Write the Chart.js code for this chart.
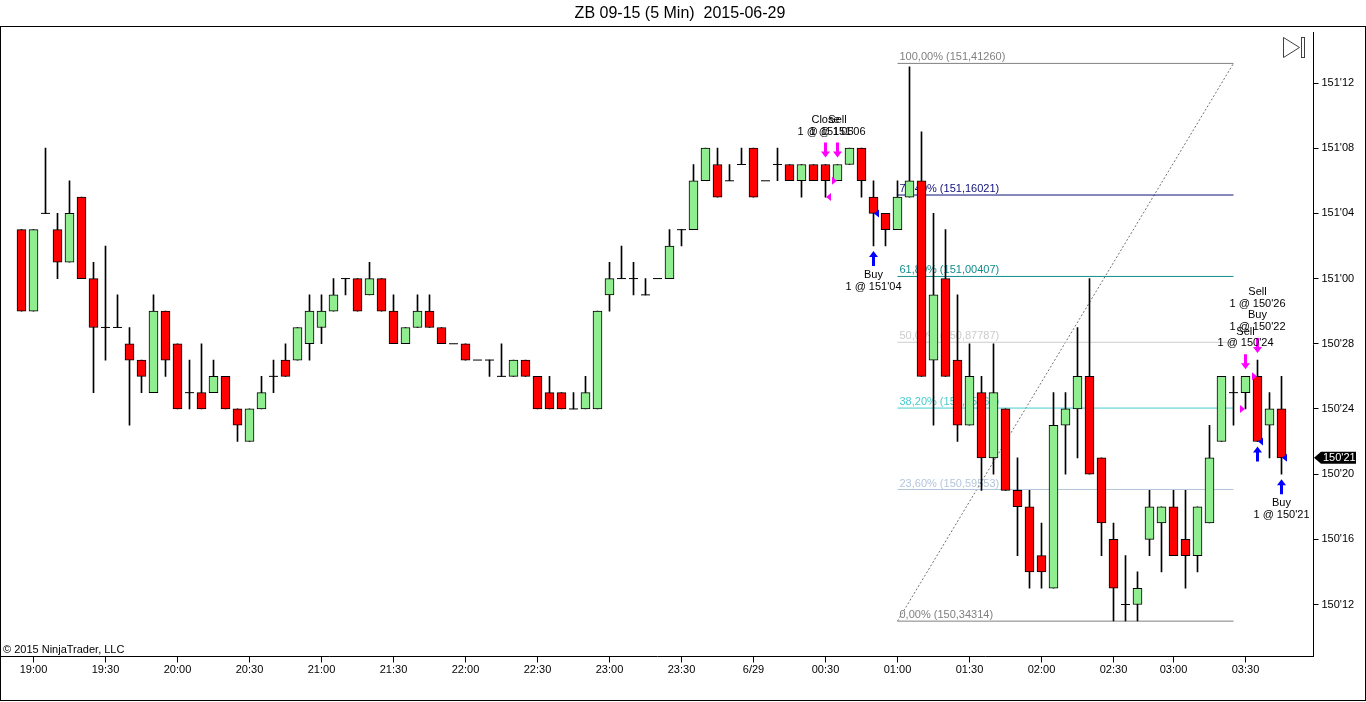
<!DOCTYPE html>
<html lang="en">
<head>
    <meta charset="UTF-8">
    <title>ZB 09-15 (5 Min) 2015-06-29</title>
    <script src="https://cdn.jsdelivr.net/npm/chart.js"></script>
    <style>
        html, body {
            margin: 0;
            padding: 0;
            background-color: #ffffff;
        }
        .chart-container {
            position: relative;
            width: 1366px;
            height: 702px;
        }
    </style>
</head>
<body>
    <div class="chart-container">
        <canvas id="chart"></canvas>
    </div>

    <script>
        // all prices are in 32nds above 150'00 (21 = 150'21, 36 = 151'04)
        const opens = [
            35, 30, 36, 35, 33, 37, 32, 29, 29, 28,
            27, 25, 30, 28, 25, 25, 25, 26, 24, 22,
            24, 26, 27, 27, 28, 29, 30, 32, 32, 31,
            32, 30, 28, 29, 30, 29, 28, 28, 27, 27,
            26, 26, 27, 26, 25, 25, 24, 24, 24, 31,
            32, 32, 31, 32, 32, 35, 35, 38, 39, 38,
            39, 40, 38, 39, 39, 38, 39, 39, 38, 39,
            40, 37, 36, 35, 37, 38, 27, 32, 27, 23,
            25, 21, 24, 19, 18, 15, 13, 23, 24, 26,
            21, 16, 12, 12, 16, 17, 18, 16, 15, 17,
            22, 25, 25, 26, 23, 24
        ];
        const highs = [
            35, 35, 40, 36, 38, 37, 33, 34, 31, 29,
            27, 31, 30, 28, 27, 28, 27, 26, 24, 24,
            26, 27, 28, 29, 31, 31, 32, 32, 32, 33,
            32, 31, 29, 31, 31, 29, 28, 28, 27, 27,
            28, 27, 27, 26, 26, 25, 25, 26, 30, 33,
            34, 33, 32, 32, 35, 35, 39, 40, 40, 39,
            40, 40, 38, 40, 39, 39, 39, 39, 39, 40,
            40, 38, 36, 38, 45, 41, 36, 35, 31, 28,
            26, 28, 24, 21, 19, 17, 25, 25, 29, 32,
            21, 17, 15, 14, 19, 18, 19, 19, 18, 23,
            26, 26, 26, 27, 25, 26
        ];
        const lows = [
            30, 30, 36, 32, 33, 32, 25, 27, 29, 23,
            25, 25, 26, 24, 24, 24, 25, 24, 22, 22,
            24, 25, 26, 27, 27, 28, 30, 31, 30, 31,
            30, 28, 28, 29, 29, 28, 28, 27, 27, 26,
            26, 26, 26, 24, 24, 24, 24, 24, 24, 30,
            32, 31, 31, 32, 32, 34, 35, 38, 37, 38,
            39, 37, 38, 38, 38, 37, 38, 37, 38, 39,
            37, 34, 34, 35, 37, 26, 23, 26, 22, 23,
            19, 20, 19, 15, 13, 13, 13, 20, 21, 20,
            15, 11, 11, 11, 15, 14, 15, 13, 14, 17,
            22, 23, 24, 22, 21, 20
        ];
        const closes = [
            30, 35, 36, 33, 36, 32, 29, 29, 29, 27,
            26, 30, 27, 24, 25, 24, 26, 24, 23, 24,
            25, 26, 26, 29, 30, 30, 31, 32, 30, 32,
            30, 28, 29, 30, 29, 28, 28, 27, 27, 27,
            26, 27, 26, 24, 24, 24, 24, 25, 30, 32,
            32, 32, 31, 32, 34, 35, 38, 40, 37, 38,
            39, 37, 38, 39, 38, 39, 38, 38, 39, 40,
            38, 36, 35, 37, 38, 26, 31, 26, 23, 26,
            21, 25, 19, 18, 14, 14, 23, 24, 26, 20,
            17, 13, 12, 13, 18, 18, 15, 15, 18, 21,
            26, 25, 26, 22, 24, 21
        ];

        // time axis: bar index -> label
        const timeTickBars = [1, 7, 13, 19, 25, 31, 37, 43, 49, 55, 61, 67, 73, 79, 85, 91, 96, 102];
        const timeTickText = ['19:00', '19:30', '20:00', '20:30', '21:00', '21:30', '22:00', '22:30', '23:00',
            '23:30', '6/29', '00:30', '01:00', '01:30', '02:00', '02:30', '03:00', '03:30'];
        const priceTicks = [12, 16, 20, 24, 28, 32, 36, 40, 44];

        // fibonacci retracement
        const fibPct = [0, 23.6, 38.2, 50, 61.8, 76.4, 100];
        const fibPrice = [150.34314, 150.59553, 150.75167, 150.87787, 151.00407, 151.16021, 151.41260];
        const fibColors = ['#808080', '#b4c6dc', '#48cccc', '#cccccc', '#128c8c', '#101078', '#808080'];
        const fibStartBar = 73;
        const fibEndBar = 101;

        // executions
        const execBar = [67, 68, 71, 102, 103, 103, 105];
        const execPrice = [37, 38, 36, 24, 26, 22, 21];
        const execKind = ['Close', 'Sell', 'Buy', 'Sell', 'Sell', 'Buy', 'Buy'];
        const lastPrice = 21;

        const FONT = '"Liberation Sans", Arial, sans-serif';

        function fmt32(v) {
            const whole = Math.floor(v / 32);
            const frac = v - whole * 32;
            return (150 + whole) + "'" + String(frac).padStart(2, '0');
        }
        function to32(p) {
            return (p - 150) * 32;
        }
        function fmtComma(n, d) {
            return n.toFixed(d).replace('.', ',');
        }

        const wickData = [];
        const bodyData = [];
        const bodyColors = [];
        const dojiData = [];
        opens.forEach((o, i) => {
            if (highs[i] > lows[i]) wickData.push({ x: i, y: [lows[i], highs[i]] });
            if (closes[i] === o) {
                dojiData.push({ x: i, y: o });
            } else {
                bodyData.push({ x: i, y: [o, closes[i]] });
                bodyColors.push(closes[i] > o ? '#90ee90' : '#ff0000');
            }
        });

        const fibSets = fibPct.map((p, j) => ({
            type: 'line',
            data: [{ x: fibStartBar, y: to32(fibPrice[j]) }, { x: fibEndBar, y: to32(fibPrice[j]) }],
            borderColor: fibColors[j],
            borderWidth: 1,
            pointRadius: 0,
            order: 10
        }));
        fibSets.push({
            type: 'line',
            data: [{ x: fibStartBar, y: to32(fibPrice[0]) }, { x: fibEndBar, y: to32(fibPrice[6]) }],
            borderColor: '#707070',
            borderWidth: 1,
            borderDash: [2, 2],
            pointRadius: 0,
            order: 10
        });

        function drawArrow(ctx, x, tip, s, color) {
            ctx.fillStyle = color;
            ctx.beginPath();
            ctx.moveTo(x, tip);
            ctx.lineTo(x + 4.5, tip + 6 * s);
            ctx.lineTo(x + 1.5, tip + 6 * s);
            ctx.lineTo(x + 1.5, tip + 15 * s);
            ctx.lineTo(x - 1.5, tip + 15 * s);
            ctx.lineTo(x - 1.5, tip + 6 * s);
            ctx.lineTo(x - 4.5, tip + 6 * s);
            ctx.closePath();
            ctx.fill();
        }

        const fibLabels = {
            id: 'fibLabels',
            beforeDatasetsDraw(chart) {
                const ctx = chart.ctx, xs = chart.scales.x, ys = chart.scales.y;
                const x = xs.getPixelForValue(fibStartBar) + 2;
                ctx.save();
                ctx.font = '11px ' + FONT;
                ctx.textAlign = 'left';
                ctx.textBaseline = 'alphabetic';
                fibPct.forEach((p, j) => {
                    const y = ys.getPixelForValue(to32(fibPrice[j]));
                    ctx.fillStyle = fibColors[j];
                    ctx.fillText(fmtComma(p, 2) + '% (' + fmtComma(fibPrice[j], 5) + ')', x, y - 3);
                });
                ctx.restore();
            }
        };

        const trades = {
            id: 'trades',
            afterDatasetsDraw(chart) {
                const ctx = chart.ctx, xs = chart.scales.x, ys = chart.scales.y;
                ctx.save();
                // arrows and execution markers
                execBar.forEach((b, j) => {
                    const x = xs.getPixelForValue(b);
                    const y = ys.getPixelForValue(execPrice[j]);
                    if (execKind[j] === 'Buy') {
                        drawArrow(ctx, x, ys.getPixelForValue(lows[b]) + 5, 1, '#0000ff');
                    } else {
                        drawArrow(ctx, x, ys.getPixelForValue(highs[b]) - 7, -1, '#ff00ff');
                    }
                    ctx.fillStyle = execKind[j] === 'Buy' ? '#0000ff' : '#ff00ff';
                    ctx.beginPath();
                    if (execKind[j] === 'Sell') {
                        ctx.moveTo(x - 0.5, y);
                        ctx.lineTo(x - 5.5, y - 4);
                        ctx.lineTo(x - 5.5, y + 4);
                    } else {
                        ctx.moveTo(x + 0.5, y);
                        ctx.lineTo(x + 5.5, y - 4);
                        ctx.lineTo(x + 5.5, y + 4);
                    }
                    ctx.closePath();
                    ctx.fill();
                });
                // text
                ctx.font = '11px ' + FONT;
                ctx.fillStyle = '#000000';
                ctx.textAlign = 'center';
                ctx.textBaseline = 'middle';
                const groups = {};
                execBar.forEach((b, j) => { (groups[b] = groups[b] || []).push(j); });
                Object.keys(groups).forEach(key => {
                    const b = +key, list = groups[b];
                    const x = xs.getPixelForValue(b);
                    const lines = [];
                    list.forEach(j => {
                        lines.push(execKind[j]);
                        lines.push('1 @ ' + fmt32(execPrice[j]));
                    });
                    if (list.some(j => execKind[j] !== 'Buy')) {
                        const top = ys.getPixelForValue(highs[b]) - 22;
                        lines.slice().reverse().forEach((t, n) => ctx.fillText(t, x, top - 11 - n * 11.7));
                    } else {
                        const bot = ys.getPixelForValue(lows[b]) + 20;
                        lines.forEach((t, n) => ctx.fillText(t, x, bot + 9 + n * 12));
                    }
                });
                ctx.restore();
            }
        };

        const frame = {
            id: 'frame',
            afterDraw(chart) {
                const ctx = chart.ctx, ys = chart.scales.y;
                ctx.save();
                ctx.strokeStyle = '#000000';
                ctx.lineWidth = 1;
                ctx.strokeRect(0.5, 26.5, 1365, 674);

                ctx.fillStyle = '#000000';
                ctx.font = '16px ' + FONT;
                ctx.textAlign = 'center';
                ctx.textBaseline = 'middle';
                ctx.fillText('ZB 09-15 (5 Min)  2015-06-29', 680, 14);

                ctx.font = '11px ' + FONT;
                ctx.textAlign = 'left';
                ctx.fillText('\u00a9 2015 NinjaTrader, LLC', 3, 650);

                // go-to-end icon
                ctx.strokeStyle = '#404040';
                ctx.beginPath();
                ctx.moveTo(1283.5, 37.5);
                ctx.lineTo(1283.5, 57.5);
                ctx.lineTo(1299.5, 47.5);
                ctx.closePath();
                ctx.stroke();
                ctx.strokeRect(1301.5, 37.5, 3, 20);

                // last price marker
                const y = ys.getPixelForValue(lastPrice);
                ctx.fillStyle = '#000000';
                ctx.beginPath();
                ctx.moveTo(1314, y);
                ctx.lineTo(1321, y - 6);
                ctx.lineTo(1356, y - 6);
                ctx.lineTo(1356, y + 6);
                ctx.lineTo(1321, y + 6);
                ctx.closePath();
                ctx.fill();
                ctx.fillStyle = '#ffffff';
                ctx.fillText(fmt32(lastPrice), 1323, y + 0.5);
                ctx.restore();
            }
        };

        new Chart(document.getElementById('chart'), {
            type: 'bar',
            data: {
                datasets: [
                    {
                        type: 'scatter',
                        data: dojiData,
                        pointStyle: 'line',
                        pointRadius: 4.5,
                        borderColor: '#000000',
                        borderWidth: 1,
                        order: 0
                    },
                    {
                        type: 'bar',
                        data: bodyData,
                        backgroundColor: bodyColors,
                        borderColor: '#000000',
                        borderWidth: 1,
                        borderSkipped: false,
                        barThickness: 9,
                        grouped: false,
                        order: 1
                    },
                    {
                        type: 'bar',
                        data: wickData,
                        backgroundColor: '#000000',
                        borderWidth: 0,
                        barThickness: 1,
                        grouped: false,
                        order: 2
                    },
                    ...fibSets
                ]
            },
            options: {
                responsive: true,
                maintainAspectRatio: false,
                animation: false,
                events: [],
                layout: {
                    autoPadding: false,
                    padding: { top: 32, left: 1.5, right: 0, bottom: 0 }
                },
                scales: {
                    x: {
                        type: 'linear',
                        offset: false,
                        min: -5 / 3,
                        max: 323 / 3,
                        afterBuildTicks(scale) {
                            scale.ticks = timeTickBars.map(v => ({ value: v }));
                        },
                        afterFit(scale) {
                            scale.height = 45.5;
                        },
                        grid: {
                            offset: false,
                            drawOnChartArea: false,
                            tickLength: 6,
                            color: '#000000'
                        },
                        border: { display: true, color: '#000000' },
                        ticks: {
                            autoSkip: false,
                            maxRotation: 0,
                            padding: 1,
                            color: '#000000',
                            font: { family: FONT, size: 11 },
                            callback: (v, i) => timeTickText[i]
                        }
                    },
                    y: {
                        type: 'linear',
                        position: 'right',
                        beginAtZero: false,
                        min: 8.81,
                        max: 47.13,
                        afterBuildTicks(scale) {
                            scale.ticks = priceTicks.map(v => ({ value: v }));
                        },
                        afterFit(scale) {
                            scale.width = 52.5;
                        },
                        grid: {
                            drawOnChartArea: false,
                            tickLength: 5,
                            color: '#000000'
                        },
                        border: { display: true, color: '#000000' },
                        ticks: {
                            padding: 3,
                            color: '#000000',
                            font: { family: FONT, size: 11 },
                            callback: v => fmt32(v)
                        }
                    }
                },
                plugins: {
                    legend: { display: false },
                    tooltip: { enabled: false }
                }
            },
            plugins: [fibLabels, trades, frame]
        });
    </script>
</body>
</html>
